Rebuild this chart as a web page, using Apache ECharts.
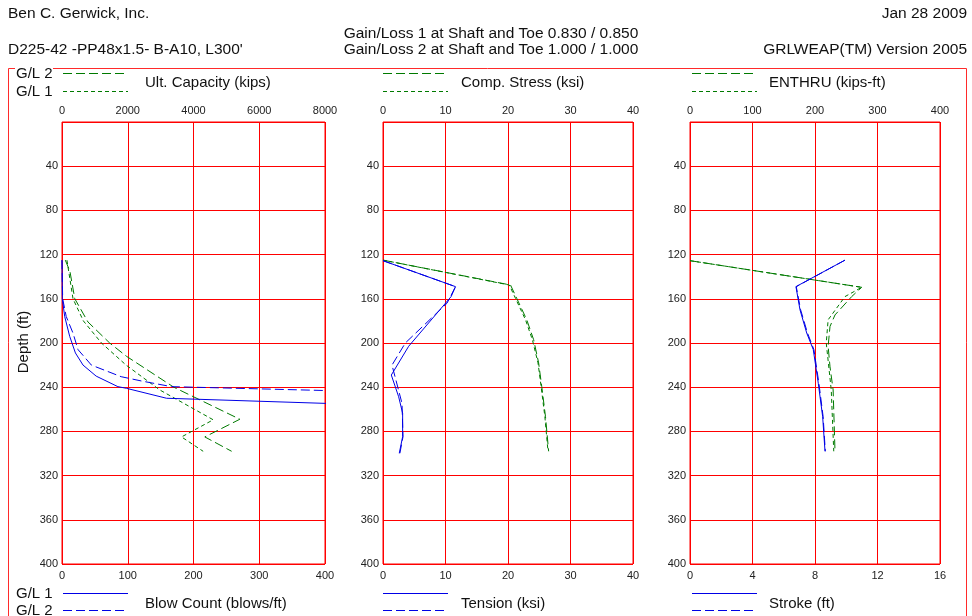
<!DOCTYPE html>
<html>
<head>
<meta charset="utf-8">
<script src="https://cdn.jsdelivr.net/npm/echarts@6/dist/echarts.min.js"></script>
<style>html,body{margin:0;padding:0;background:#fff}#c{width:972px;height:616px}</style>
</head>
<body>
<div id="c"></div>
<script>
// ---- Data (depth in ft) ----
const depthTicks = [0,40,80,120,160,200,240,280,320,360,400];

// Ult. Capacity (kips)
const depthCapGL1 = [125,160,180,200,220,242.5,269.5,285,298];
const capGL1      = [150,335,650,1200,1950,2975,4600,3636,4294];
const depthCapGL2 = [125,135,160,181,200,212,240,269,285,298];
const capGL2      = [100,240,390,790,1450,1960,3400,5410,4345,5160];

// Blow Count (blows/ft)
const depthBlowGL1 = [125,160,176,194,209,220,230,239.5,241,250,260];
const blowGL1      = [0,0.5,4.1,11.7,20.4,32,52,85,98,159,680];
const depthBlowGL2 = [125,160,176,191,206,220,230.5,234.4,239.5,250];
const blowGL2      = [0,1,6.4,16.7,24.4,44.7,90,121,166.5,867];

// Comp. Stress (ksi)
const depthComp = [125,147.5,159.6,179,197,218,239.5,266.7,298];
const compGL1   = [0,20.2,21.2,22.8,23.9,24.8,25.3,25.9,26.4];
const compGL2   = [0,20.4,21.4,23.0,24.1,24.9,25.4,26.0,26.5];

// Tension (ksi)
const depthTenGL1 = [125.5,149,158,203,229,248.6,263.6,284.8,299.8];
const tenGL1      = [0,11.6,10.9,4.1,1.33,2.5,3.14,3.14,2.6];
const depthTenGL2 = [125.5,149,164,200,220,254.6,284.8,299.8];
const tenGL2      = [0,11.6,10.24,3.57,1.44,3.04,3.2,2.7];

// ENTHRU (kips-ft)
const depthEnGL1 = [125.5,149.6,158,179,200,242.5,298];
const enGL1      = [0,274.7,248,221,218,226,230];
const depthEnGL2 = [125.5,149.6,158,174.6,185,203,221.5,242.5,298];
const enGL2      = [0,274.7,258.7,232,224,221,224,229,232];

// Stroke (ft)
const depthStroke = [125,149,170,191,206,236.5,266.7,298];
const strokeGL1   = [9.92,6.78,7.04,7.47,7.89,8.21,8.49,8.64];
const strokeGL2   = [9.92,6.8,7.08,7.52,7.93,8.25,8.52,8.66];

// Axis ranges
const topAxes    = [{max:8000, interval:2000},{max:40, interval:10},{max:400, interval:100}];
const bottomAxes = [{max:400, interval:100},{max:40, interval:10},{max:16, interval:4}];

// ---- Chart ----
const RED = '#ff0000', GREEN = '#007a00', BLUE = '#0000e6';
const FONT = 'Liberation Sans, Arial, sans-serif';
const pair = (d, v) => d.map((y, i) => [v[i], y]);

const grids = [
  {left:62, top:122, width:263, height:442},
  {left:383, top:122, width:250, height:442},
  {left:690, top:122, width:250, height:442}
].map(g => Object.assign(g, {show:true, borderColor:RED, borderWidth:1, backgroundColor:'#fff', containLabel:false, outerBoundsMode:'none'}));

const axisLabelStyle = {fontFamily:FONT, fontSize:11, color:'#222', formatter: v => String(v)};
const redSplit = {show:true, lineStyle:{color:RED, width:1, type:'solid'}};
const xAxis = [], yAxis = [];
for (let i = 0; i < 3; i++) {
  xAxis.push({type:'value', gridIndex:i, position:'top', min:0, max:topAxes[i].max, interval:topAxes[i].interval,
    axisLine:{show:false}, axisTick:{show:false}, axisLabel:Object.assign({margin:6}, axisLabelStyle),
    splitLine:redSplit});
  xAxis.push({type:'value', gridIndex:i, position:'bottom', min:0, max:bottomAxes[i].max, interval:bottomAxes[i].interval,
    axisLine:{show:false, onZero:false}, axisTick:{show:false}, axisLabel:Object.assign({margin:6}, axisLabelStyle),
    splitLine:{show:false}});
  yAxis.push({type:'value', gridIndex:i, inverse:true, min:0, max:400, interval:40,
    axisLine:{show:false, onZero:false}, axisTick:{show:false},
    axisLabel:Object.assign({margin:4, showMinLabel:false}, axisLabelStyle),
    splitLine:redSplit});
}

function ser(name, xi, yi, data, color, dash) {
  return {type:'line', name, xAxisIndex:xi, yAxisIndex:yi, data, symbol:'none', clip:true,
    lineStyle:{color, width:1, type:dash}, silent:true, animation:false, z:5};
}
const SHORT = [4,3], LONG = [9,4];
const series = [
  ser('Cap GL1', 0, 0, pair(depthCapGL1, capGL1), GREEN, SHORT),
  ser('Cap GL2', 0, 0, pair(depthCapGL2, capGL2), GREEN, LONG),
  ser('Blow GL1', 1, 0, pair(depthBlowGL1, blowGL1), BLUE, 'solid'),
  ser('Blow GL2', 1, 0, pair(depthBlowGL2, blowGL2), BLUE, LONG),
  ser('Comp GL1', 2, 1, pair(depthComp, compGL1), GREEN, SHORT),
  ser('Comp GL2', 2, 1, pair(depthComp, compGL2), GREEN, LONG),
  ser('Ten GL1', 3, 1, pair(depthTenGL1, tenGL1), BLUE, 'solid'),
  ser('Ten GL2', 3, 1, pair(depthTenGL2, tenGL2), BLUE, LONG),
  ser('En GL1', 4, 2, pair(depthEnGL1, enGL1), GREEN, SHORT),
  ser('En GL2', 4, 2, pair(depthEnGL2, enGL2), GREEN, LONG),
  ser('Str GL1', 5, 2, pair(depthStroke, strokeGL1), BLUE, 'solid'),
  ser('Str GL2', 5, 2, pair(depthStroke, strokeGL2), BLUE, LONG)
];

function txt(text, x, y, align, size, rot) {
  return {type:'text', x, y, rotation: rot || 0, z:10,
    style:{text, font: (size||15) + 'px ' + FONT, fill:'#111', align: align||'left', verticalAlign:'middle'}};
}
function seg(x1, x2, y, color, dash) {
  return {type:'line', z:10, shape:{x1, y1:y, x2, y2:y}, style:{stroke:color, lineWidth:1, lineDash: dash}};
}
const legendX = [63, 383, 692];
const topTitles = ['Ult. Capacity (kips)', 'Comp. Stress (ksi)', 'ENTHRU (kips-ft)'];
const botTitles = ['Blow Count (blows/ft)', 'Tension (ksi)', 'Stroke (ft)'];
const titleX = [145, 461, 769];

const graphic = [
  {type:'rect', z:1, shape:{x:8.5, y:68.5, width:958, height:580}, style:{fill:null, stroke:'#ff2a2a', lineWidth:1}},
  {type:'rect', z:2, shape:{x:15, y:66, width:38, height:6}, style:{fill:'#fff'}},
  txt('Ben C. Gerwick, Inc.', 8, 14, 'left', 15.5),
  txt('Jan 28 2009', 967, 14, 'right', 15.5),
  txt('Gain/Loss 1 at Shaft and Toe 0.830 / 0.850', 491, 34, 'center', 15.5),
  txt('Gain/Loss 2 at Shaft and Toe 1.000 / 1.000', 491, 50, 'center', 15.5),
  txt("D225-42 -PP48x1.5- B-A10, L300'", 8, 50, 'left', 15.5),
  txt('GRLWEAP(TM) Version 2005', 967, 50, 'right', 15.5),
  txt('G/L 2', 16, 74, 'left'),
  txt('G/L 1', 16, 92, 'left'),
  txt('G/L 1', 16, 594, 'left'),
  txt('G/L 2', 16, 611, 'left'),
  txt('Depth (ft)', 24, 342, 'center', 15, Math.PI/2)
];
for (let i = 0; i < 3; i++) {
  graphic.push(seg(legendX[i], legendX[i]+65, 73.5, GREEN, LONG));
  graphic.push(seg(legendX[i], legendX[i]+65, 91.5, GREEN, SHORT));
  graphic.push(txt(topTitles[i], titleX[i], 83, 'left'));
  graphic.push(seg(legendX[i], legendX[i]+65, 593.5, BLUE, null));
  graphic.push(seg(legendX[i], legendX[i]+65, 610.5, BLUE, LONG));
  graphic.push(txt(botTitles[i], titleX[i], 604, 'left'));
}

const chart = echarts.init(document.getElementById('c'), null, {renderer:'canvas'});
chart.setOption({animation:false, backgroundColor:'#fff', grid:grids, xAxis, yAxis, series, graphic});
</script>
</body>
</html>
